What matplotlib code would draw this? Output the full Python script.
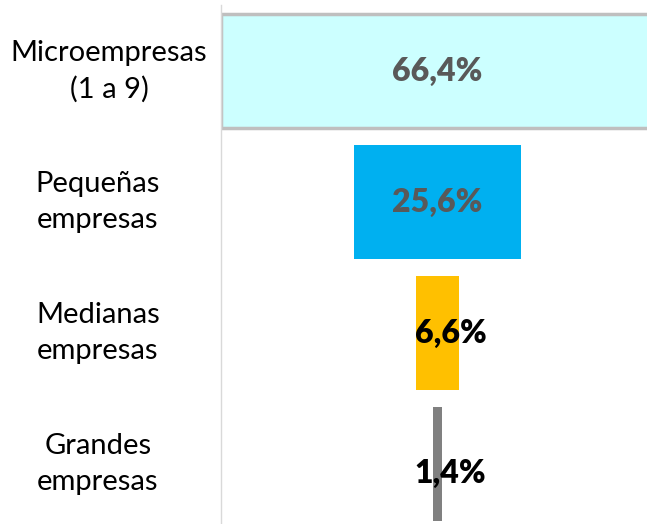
import matplotlib.pyplot as plt

categories = ["Microempresas\n(1 a 9)", "Pequeñas\nempresas", "Medianas\nempresas", "Grandes\nempresas"]
values = [66.4, 25.6, 6.6, 1.4]
labels = ["66,4%", "25,6%", "6,6%", "1,4%"]
colors = ["#CCFFFF", "#00B0F0", "#FFC000", "#808080"]

plt.rcParams['font.family'] = ['Lato', 'DejaVu Sans']

fig = plt.figure(figsize=(6.47, 5.24), dpi=100)
ax = fig.add_axes([221 / 647, 0, 1 - 221 / 647, 1 - 5.5 / 524])

ypos = range(len(values))
lefts = [-v / 2 for v in values]
bars = ax.barh(ypos, values, left=lefts, height=0.87, color=colors)
bars[0].set_edgecolor("#BFBFBF")
bars[0].set_linewidth(2.5)

ax.set_xlim(-33.2, 32.1)
ax.set_ylim(3.458, -0.5)

# value labels
for i, (v, lab) in enumerate(zip(values, labels)):
    if v > 10:
        ax.text(0, i, lab, ha="center", va="center", fontsize=23,
                fontweight="heavy", color="#595959")
    else:
        ax.text(2.0, i + (0.07 if v < 2 else 0), lab, ha="center", va="center",
                fontsize=23, fontweight="heavy", color="black")

# category labels to the left of the axis
label_x = [-0.263, -0.289, -0.289, -0.289]
for i, cat in enumerate(categories):
    ax.text(label_x[i], i, cat, ha="center", va="center", fontsize=21,
            color="black", linespacing=1.45, transform=ax.get_yaxis_transform())

ax.set_xticks([])
ax.set_yticks([])
for s in ["top", "right", "bottom"]:
    ax.spines[s].set_visible(False)
ax.spines["left"].set_color("#D9D9D9")
ax.spines["left"].set_linewidth(1.0)

fig.savefig("out.png", dpi=100)
